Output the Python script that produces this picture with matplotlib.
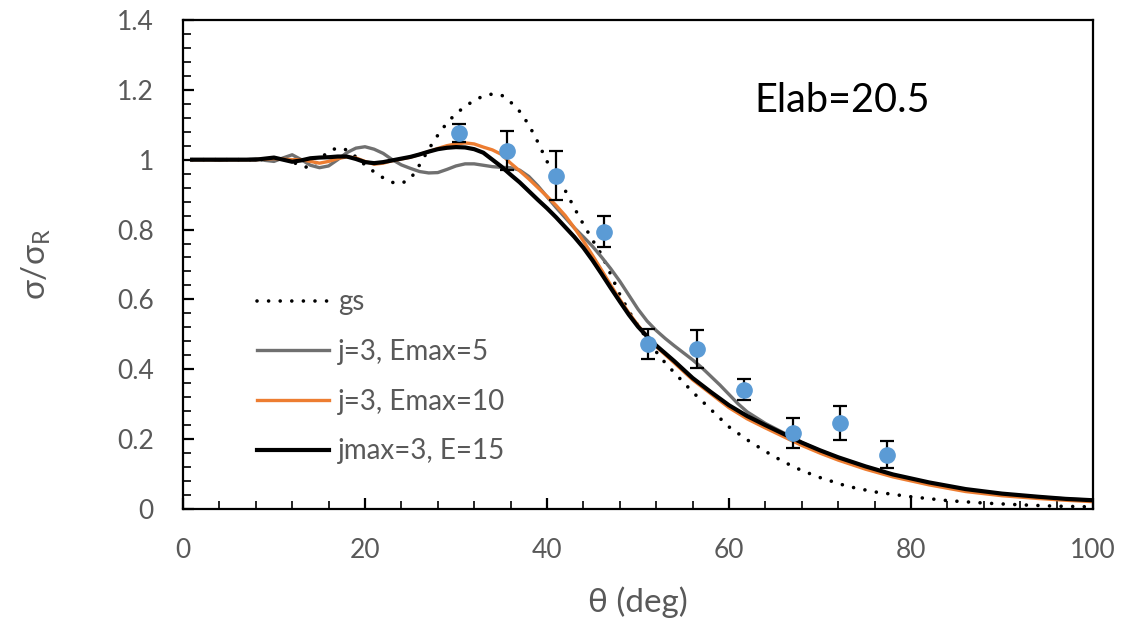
import matplotlib
matplotlib.use("Agg")
import matplotlib.pyplot as plt
from matplotlib.ticker import MultipleLocator, FuncFormatter

plt.rcParams['font.family'] = ['Lato', 'DejaVu Sans']
plt.rcParams['mathtext.fontset'] = 'custom'
plt.rcParams['mathtext.rm'] = 'Lato'

# data
gs_x = [1, 5, 8, 10, 11, 12, 13, 14, 15, 16, 17, 18, 19, 20, 21, 22, 23, 24, 25, 26,
        27, 28, 29, 30, 31, 32, 33, 34, 35, 36, 37, 38, 39, 40, 41, 42, 43, 44, 45, 46,
        47, 48, 49, 50, 51, 52, 53, 54, 56, 57, 58, 60, 62, 64, 66, 68, 70, 73, 76, 80, 84,
        88, 92, 96, 100]
gs_y = [1.0, 1.0, 1.0, 1.0, 1.003, 0.995, 0.98, 0.978, 1.0, 1.024, 1.034, 1.028, 1.008, 0.985,
        0.965, 0.948, 0.935, 0.932, 0.945, 0.985, 1.03, 1.07, 1.105, 1.132, 1.152, 1.17, 1.182,
        1.188, 1.185, 1.165, 1.138, 1.1, 1.05, 0.995, 0.955, 0.912, 0.862, 0.815, 0.77, 0.728,
        0.672, 0.614, 0.566, 0.525, 0.486, 0.45, 0.418, 0.39, 0.335, 0.31, 0.285, 0.235,
        0.198, 0.165, 0.135, 0.11, 0.09, 0.065, 0.049, 0.035, 0.024, 0.017, 0.012, 0.008, 0.006]

e5_x = [1, 3, 4, 5, 7, 8, 9, 10, 11, 12, 13, 14, 15, 16, 17, 18, 19, 20, 21, 22, 23, 24,
        25, 26, 27, 28, 29, 30, 31, 32, 33, 34, 35, 36, 37, 38, 39, 40, 41, 42, 43, 44, 45,
        46, 47, 48, 49, 50, 51, 52, 53, 54, 55, 56, 57, 58, 59, 60, 61, 62, 64, 66, 68, 70,
        72, 75, 78, 82, 86, 90, 94, 97, 100]
e5_y = [1.0, 1.0, 0.998, 1.0, 1.0, 1.003, 0.998, 0.995, 1.005, 1.014, 1.0, 0.984, 0.977, 0.982,
        1.0, 1.02, 1.033, 1.037, 1.03, 1.018, 1.0, 0.985, 0.975, 0.966, 0.962, 0.963, 0.972,
        0.982, 0.988, 0.988, 0.984, 0.98, 0.978, 0.977, 0.97, 0.952, 0.925, 0.894, 0.863,
        0.834, 0.805, 0.779, 0.752, 0.721, 0.688, 0.652, 0.612, 0.572, 0.538, 0.511, 0.488,
        0.467, 0.447, 0.427, 0.405, 0.38, 0.355, 0.328, 0.301, 0.278, 0.245, 0.218, 0.19,
        0.167, 0.147, 0.121, 0.098, 0.074, 0.055, 0.043, 0.034, 0.029, 0.025]

e10_x = [1, 8, 10, 12, 13, 14, 15, 16, 17, 18, 19, 20, 21, 22, 23, 24, 25, 26, 27, 28, 29,
         30, 31, 32, 33, 34, 35, 36, 37, 38, 39, 40, 41, 42, 43, 44, 45, 46, 47, 48, 49, 50,
         51, 52, 54, 56, 58, 60, 62, 64, 66, 68, 70, 72, 75, 78, 82, 86, 90, 94, 97, 100]
e10_y = [1.0, 1.0, 1.003, 1.0, 1.0, 0.995, 0.99, 0.995, 1.003, 1.008, 1.005, 0.995, 0.987,
         0.99, 0.997, 1.002, 1.007, 1.015, 1.023, 1.032, 1.04, 1.045, 1.048, 1.045, 1.036,
         1.028, 1.015, 0.99, 0.968, 0.945, 0.92, 0.895, 0.869, 0.84, 0.805, 0.767, 0.726,
         0.684, 0.641, 0.6, 0.561, 0.526, 0.494, 0.465, 0.418, 0.37, 0.33, 0.29, 0.258,
         0.232, 0.207, 0.182, 0.16, 0.14, 0.114, 0.092, 0.069, 0.05, 0.038, 0.03, 0.025, 0.021]

e15_x = [1, 5, 8, 9, 10, 11, 12, 13, 14, 15, 16, 17, 18, 19, 20, 21, 22, 23, 24, 25, 26, 27,
         28, 29, 30, 31, 32, 33, 34, 35, 36, 37, 38, 39, 40, 41, 42, 43, 44, 45, 46, 47, 48,
         49, 50, 51, 52, 54, 56, 58, 60, 62, 64, 66, 68, 70, 72, 75, 78, 82, 86, 90, 94, 97,
         100]
e15_y = [1.0, 1.0, 1.0, 1.003, 1.006, 1.0, 0.994, 0.998, 1.004, 1.006, 1.007, 1.009, 1.009,
         1.002, 0.993, 0.99, 0.993, 0.998, 1.003, 1.008, 1.015, 1.023, 1.03, 1.034, 1.036,
         1.035, 1.03, 1.02, 1.0, 0.98, 0.957, 0.935, 0.91, 0.885, 0.861, 0.835, 0.807, 0.779,
         0.748, 0.712, 0.673, 0.633, 0.594, 0.556, 0.522, 0.494, 0.468, 0.423, 0.375, 0.335,
         0.297, 0.266, 0.24, 0.215, 0.19, 0.168, 0.148, 0.122, 0.099, 0.076, 0.057, 0.044,
         0.035, 0.029, 0.025]

exp_x = [30.3, 35.6, 41.0, 46.3, 51.1, 56.5, 61.7, 67.0, 72.2, 77.4]
exp_y = [1.077, 1.026, 0.954, 0.794, 0.473, 0.458, 0.341, 0.218, 0.246, 0.155]
exp_err = [0.025, 0.055, 0.07, 0.045, 0.043, 0.053, 0.03, 0.042, 0.048, 0.039]

gray_txt = '#595959'

fig = plt.figure(figsize=(11.26, 6.23), dpi=100)
ax = fig.add_axes([0.1625, 0.183, 0.8082, 0.785])

ax.plot(gs_x, gs_y, color='black', lw=2.6, linestyle=(0, (0.01, 3.2)),
        dash_capstyle='round', label='gs')
ax.plot(e5_x, e5_y, color='#707070', lw=2.4, label='j=3, Emax=5')
ax.plot(e10_x, e10_y, color='#ED7D31', lw=2.4, label='j=3, Emax=10')
ax.plot(e15_x, e15_y, color='black', lw=3.0, label='jmax=3, E=15')
ax.errorbar(exp_x, exp_y, yerr=exp_err, fmt='o', color='#5B9BD5', markersize=11,
            ecolor='black', elinewidth=1.6, capsize=5, capthick=1.6, zorder=5)

ax.set_xlim(0, 100)
ax.set_ylim(0, 1.4)
ax.xaxis.set_major_locator(MultipleLocator(20))
ax.xaxis.set_minor_locator(MultipleLocator(4))
ax.yaxis.set_major_locator(MultipleLocator(0.2))
ax.yaxis.set_minor_locator(MultipleLocator(0.04))
ax.yaxis.set_major_formatter(FuncFormatter(lambda v, p: '%g' % round(v, 2)))

for s in ax.spines.values():
    s.set_linewidth(1.6)
    s.set_color('black')
ax.tick_params(which='major', direction='in', length=8, width=1.6,
               labelsize=19, labelcolor=gray_txt, pad=21)
ax.tick_params(which='minor', direction='in', length=5.5, width=1.2)

ax.set_xlabel('θ (deg)', fontsize=24, color=gray_txt, labelpad=17)
ax.set_ylabel(r'σ/σ$_\mathrm{R}$', fontsize=24, color=gray_txt, labelpad=46)

ax.text(0.628, 0.836, 'Elab=20.5', transform=ax.transAxes, fontsize=28.5,
        color='black', va='center', ha='left')

leg = ax.legend(loc='upper left', bbox_to_anchor=(0.054, 0.5), frameon=False,
                fontsize=20, handlelength=2.6, handletextpad=0.3, labelspacing=0.85)
for t in leg.get_texts():
    t.set_color(gray_txt)

fig.savefig('out.png', dpi=100)
